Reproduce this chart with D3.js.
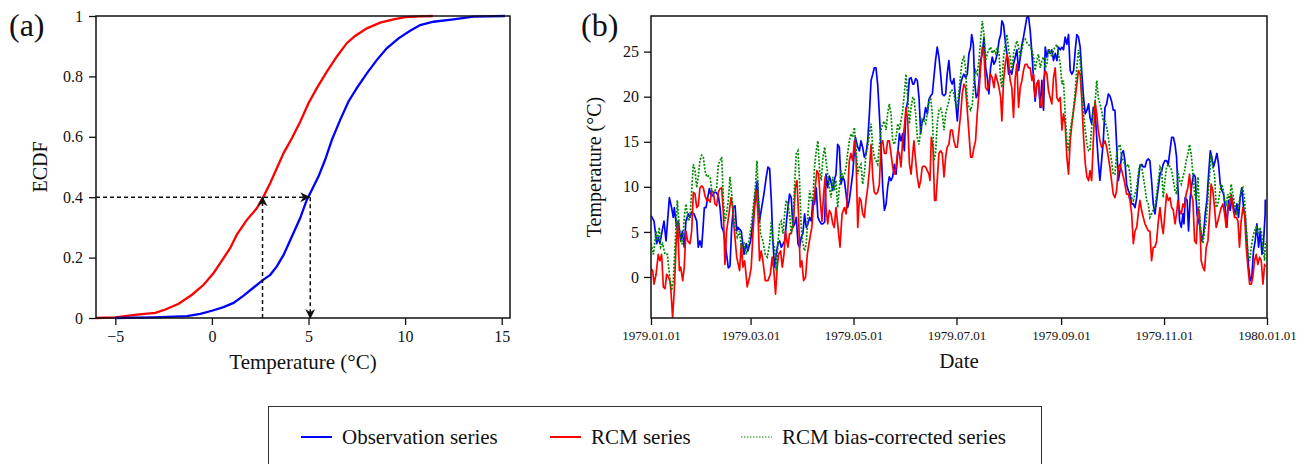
<!DOCTYPE html>
<html lang="en">
<head>
<meta charset="utf-8">
<title>ECDF and daily temperature series</title>
<script src="https://cdn.jsdelivr.net/npm/d3@7"></script>
<style>
  body { margin: 0; background: #fff; }
  svg text { font-family: "Liberation Serif", "Times New Roman", serif; fill: #111; }
</style>
</head>
<body>
<script>

// ---------- data ----------
// panel (a): ECDF points [temperature, probability]
var ecdfObs = [[-5,0],[-3.0,0.002],[-1.3,0.006],[-0.6,0.014],[0,0.024],[0.6,0.036],[1.12,0.05],[1.64,0.074],
  [2.16,0.101],[2.67,0.127],[3.02,0.143],[3.36,0.171],[3.71,0.209],[4.14,0.27],[4.57,0.331],[4.91,0.391],
  [5.17,0.424],[5.52,0.469],[5.86,0.524],[6.21,0.59],[6.64,0.656],[7.07,0.717],[7.5,0.761],[8.02,0.81],
  [8.53,0.854],[9.05,0.893],[9.66,0.926],[10.26,0.951],[10.78,0.97],[11.47,0.981],[12.5,0.989],[13.53,0.998],[15.17,1]];
var ecdfRcm = [[-6,0],[-5,0.002],[-3.88,0.011],[-2.93,0.017],[-2.41,0.028],[-1.72,0.047],[-1.03,0.077],[-0.43,0.11],
  [0.09,0.149],[0.43,0.182],[0.95,0.232],[1.29,0.276],[1.81,0.325],[2.33,0.364],[2.67,0.402],[3.02,0.447],
  [3.36,0.496],[3.71,0.546],[4.14,0.595],[4.57,0.65],[5.0,0.711],[5.43,0.761],[5.95,0.816],[6.47,0.866],
  [6.98,0.91],[7.41,0.934],[8.02,0.959],[8.71,0.978],[9.4,0.989],[10.0,0.996],[10.78,0.999],[11.43,1]];
var quantileLevel = 0.4;
var rcmQuantile = 2.62;
var obsQuantile = 5.09;
var ecdfXTicks = [-5, 0, 5, 10, 15];
var ecdfYTicks = [0, 0.2, 0.4, 0.6, 0.8, 1];

// panel (b): [day of 1979, temperature]
var obsSeries = [[0,6.8],[1.8,6.2],[3.4,3.7],[4.3,4.4],[5.3,3.7],[6.3,4.8],[7.7,6.2],[8.9,4.0],[10.9,8.8],[12.2,7.7],
  [13.2,6.6],[13.8,7.7],[15.2,5.5],[16.2,6.2],[17.6,4.0],[18.6,5.1],[19.7,3.3],[20.7,6.2],[22.1,7.0],[23.1,6.6],
  [24.1,7.2],[25.5,7.0],[27.1,6.2],[28.0,3.3],[29.0,4.0],[30.0,3.3],[31.0,5.9],[31.6,7.7],[32.6,7.7],[33.4,8.6],
  [34.6,9.8],[35.3,9.2],[36.5,9.0],[37.5,9.4],[38.5,9.4],[39.9,9.0],[40.9,7.7],[41.9,5.5],[42.9,5.1],[43.8,4.0],
  [45.8,1.0],[46.8,1.2],[47.8,5.5],[48.8,7.7],[49.8,7.9],[50.8,5.1],[51.5,5.5],[53.5,5.1],[55.1,2.5],[56.4,3.7],
  [57.4,2.9],[59.0,4.0],[60.4,6.2],[61.8,9.2],[63.0,10.7],[64.3,6.2],[65.3,7.4],[66.9,9.2],[68.3,11.1],[69.3,12.2],
  [70.3,12.0],[71.3,8.5],[72.2,4.0],[73.2,1.1],[74.2,2.5],[75.2,3.7],[76.2,4.0],[77.2,3.3],[79.2,4.0],[80.7,7.0],
  [82.1,9.2],[83.1,8.8],[84.1,5.5],[85.1,5.9],[86.1,6.6],[87.1,3.7],[88.0,3.3],[89.0,4.4],[90.0,4.8],[91.0,7.0],
  [92.0,5.5],[93.0,5.9],[94.0,6.6],[95.0,6.2],[95.9,8.5],[96.9,8.1],[97.9,9.9],[98.9,6.6],[99.9,6.2],[100.9,5.9],
  [101.9,5.9],[102.9,6.1],[103.7,11.4],[104.7,9.9],[105.7,11.2],[106.7,10.5],[107.7,9.6],[108.6,10.7],[109.6,11.4],
  [110.6,14.7],[111.6,14.4],[112.6,10.3],[113.6,11.1],[114.6,10.7],[115.6,9.2],[116.5,7.7],[117.5,8.5],[119.5,11.4],
  [121.1,15.5],[122.5,14.4],[123.5,14.0],[124.4,15.1],[125.4,14.4],[126.4,13.3],[127.4,13.7],[128.4,15.1],[129.4,18.1],
  [130.4,21.8],[131.4,22.5],[132.3,23.2],[133.3,23.2],[134.3,21.4],[135.3,18.1],[136.3,14.4],[137.3,9.9],[138.3,7.4],
  [139.3,8.1],[140.2,9.9],[141.2,11.1],[142.2,10.7],[143.2,11.1],[144.2,12.5],[145.2,11.4],[146.2,13.7],[147.2,15.9],
  [148.1,15.1],[149.1,15.9],[150.1,14.0],[151.1,18.5],[152.1,19.5],[153.1,22.0],[154.1,22.1],[155.1,21.4],[155.8,21.4],
  [156.8,22.0],[157.8,21.8],[158.8,19.9],[159.8,15.9],[160.7,17.3],[161.7,17.5],[162.7,18.8],[163.7,18.1],[164.7,19.7],
  [165.7,20.1],[166.7,20.3],[167.6,22.1],[168.6,24.0],[169.6,25.5],[170.6,24.4],[171.6,22.5],[172.6,20.3],[173.6,20.1],
  [174.6,20.3],[175.5,22.5],[176.5,24.0],[177.5,21.8],[178.5,21.4],[179.5,22.0],[180.5,19.5],[181.5,17.3],[182.5,19.9],
  [183.5,21.4],[184.4,22.1],[185.4,22.5],[186.4,22.1],[187.4,22.5],[188.4,24.8],[189.4,25.5],[190.0,26.9],[191.0,25.8],
  [191.7,21.8],[192.7,19.9],[193.7,20.3],[194.7,22.5],[195.3,24.0],[196.3,24.8],[197.3,26.6],[198.3,23.2],[199.3,22.1],
  [200.2,20.3],[201.2,23.2],[202.2,24.4],[203.2,23.6],[204.2,24.0],[205.2,24.8],[206.2,26.2],[207.2,26.9],[207.9,28.4],
  [208.9,28.0],[209.9,26.2],[210.9,24.7],[211.9,22.5],[212.8,22.9],[213.8,22.5],[214.8,23.6],[215.8,24.4],[216.8,25.2],
  [217.8,22.9],[218.8,24.4],[219.8,25.8],[220.7,26.6],[221.7,27.7],[222.7,28.8],[223.7,28.9],[224.7,27.3],[225.7,24.8],
  [226.7,21.8],[227.6,19.5],[228.6,21.4],[229.6,21.8],[230.6,18.8],[231.6,21.8],[232.6,18.5],[233.6,25.5],[234.6,24.4],
  [235.5,25.2],[236.5,24.8],[237.5,25.2],[238.5,24.0],[239.5,24.8],[240.5,24.0],[241.5,25.5],[242.5,25.2],[243.5,25.5],
  [244.4,25.2],[245.4,26.6],[246.4,25.8],[247.4,26.9],[248.4,22.9],[249.4,22.5],[250.4,22.9],[251.4,25.2],[252.3,26.9],
  [253.3,26.6],[254.3,25.5],[255.3,22.5],[256.3,19.9],[257.3,18.1],[258.3,18.5],[259.3,19.2],[260.1,17.7],[261.1,17.0],
  [262.1,18.8],[263.1,18.5],[264.1,15.5],[265.0,12.9],[266.0,10.7],[267.0,12.9],[268.0,15.1],[269.0,18.8],[270.0,19.2],
  [271.0,20.3],[271.9,20.1],[272.9,19.5],[273.9,18.5],[274.9,18.5],[275.9,14.7],[276.9,10.7],[277.9,11.8],[278.9,13.7],
  [279.9,14.0],[280.8,12.9],[281.8,10.3],[282.8,9.6],[283.8,9.2],[284.8,8.1],[285.8,8.1],[286.8,7.7],[287.8,8.8],
  [288.7,10.7],[289.7,12.3],[290.7,12.5],[291.7,12.2],[292.7,12.2],[293.7,12.9],[294.7,13.1],[295.6,12.9],[296.6,10.7],
  [297.6,8.1],[298.6,7.0],[299.6,8.5],[300.6,9.9],[301.6,11.4],[302.6,11.8],[303.5,12.5],[304.5,12.9],[305.5,12.9],
  [306.5,12.5],[307.5,14.0],[308.5,15.5],[309.5,15.5],[310.5,14.7],[311.4,13.3],[312.2,9.9],[313.2,6.2],[314.2,5.5],
  [315.2,7.0],[315.8,5.9],[316.5,8.8],[317.7,8.5],[318.5,5.1],[319.5,8.8],[320.5,10.3],[321.5,11.4],[322.5,11.1],
  [323.5,7.0],[324.4,6.2],[325.4,5.5],[326.4,4.0],[327.4,4.8],[328.4,7.0],[329.4,8.5],[330.4,11.4],[331.4,14.0],
  [332.3,13.3],[333.3,12.2],[334.3,12.9],[335.3,13.7],[336.3,12.5],[337.3,10.3],[338.3,9.6],[339.3,9.2],[340.2,7.7],
  [341.2,5.5],[342.2,8.5],[343.2,7.4],[344.2,8.8],[345.2,7.7],[346.2,7.0],[347.2,8.1],[348.1,6.6],[349.1,8.8],[350.1,9.9],
  [351.1,7.7],[352.1,6.6],[353.1,4.0],[354.1,1.1],[355.1,-0.4],[356.0,0.0],[357.0,2.9],[358.0,4.0],[359.0,5.9],[360.0,3.3],
  [361.0,5.1],[362.0,2.5],[363.0,4.0],[363.9,7.0],[364,8.6]];

var rcmSeries = [[0,0.9],[1.0,0.7],[1.8,-0.8],[3.0,0.3],[4.3,2.5],[5.3,1.8],[6.3,2.5],[7.3,-1.1],[8.3,-1.3],[9.3,0.3],
  [10.3,0.0],[11.2,-0.4],[11.8,-1.5],[12.8,-4.5],[13.8,-1.5],[14.8,3.3],[15.8,6.2],[16.8,0.7],[17.6,1.1],[18.8,-0.4],
  [19.7,1.1],[20.7,5.1],[21.7,4.0],[23.1,3.7],[24.1,5.1],[25.1,9.4],[26.1,9.2],[27.1,7.7],[28.0,7.9],[29.0,9.9],
  [30.0,10.1],[31.0,9.9],[32.0,9.0],[33.0,8.5],[34.0,8.6],[35.0,8.3],[36.0,9.6],[36.9,9.4],[37.9,8.1],[38.9,7.9],
  [39.9,9.4],[40.9,9.8],[41.9,9.9],[42.9,7.0],[43.8,1.4],[44.8,5.1],[46.2,7.0],[47.4,8.8],[48.4,7.7],[49.4,5.1],
  [50.8,2.2],[51.7,1.4],[52.5,0.7],[53.5,3.7],[54.5,1.1],[55.5,1.8],[57.0,-1.1],[58.4,0.0],[59.4,1.1],[60.4,4.8],
  [61.4,7.7],[62.4,9.6],[63.4,7.0],[64.3,1.8],[65.3,2.9],[66.3,1.8],[67.7,-0.4],[69.3,-0.4],[70.7,0.3],[71.8,2.2],
  [72.8,0.7],[73.8,-1.9],[74.8,1.1],[75.6,2.5],[76.8,2.9],[77.8,1.1],[78.8,2.5],[79.7,5.1],[81.1,3.3],[82.1,4.8],
  [83.1,4.8],[84.5,6.2],[85.5,9.9],[86.5,10.7],[87.4,7.0],[88.4,1.1],[89.4,1.8],[90.4,-0.4],[91.6,0.0],[92.6,2.5],
  [93.6,3.7],[94.6,4.8],[95.3,5.5],[96.3,8.1],[97.3,9.9],[98.3,11.8],[99.3,11.4],[100.3,8.5],[101.3,6.2],[102.3,9.2],
  [103.2,11.1],[103.7,7.7],[104.7,5.9],[105.7,7.4],[106.7,7.0],[107.7,5.9],[108.6,5.5],[109.6,7.7],[110.6,5.9],
  [112.0,3.3],[113.2,7.0],[114.6,7.7],[115.6,7.0],[116.5,9.2],[117.5,12.9],[118.5,13.7],[119.5,12.9],[120.5,15.1],
  [121.5,13.3],[122.5,5.5],[123.5,8.8],[124.4,8.5],[125.4,7.0],[126.4,6.6],[127.4,8.5],[128.4,9.9],[129.4,11.8],
  [130.4,14.7],[131.4,11.1],[132.3,9.4],[133.3,9.2],[134.3,9.4],[135.3,10.3],[136.3,14.7],[137.3,15.1],[138.3,13.7],
  [139.3,13.7],[140.2,15.1],[141.2,15.1],[142.2,13.7],[143.2,12.2],[144.2,11.4],[145.2,12.2],[146.2,14.0],[147.2,13.7],
  [148.1,12.2],[149.1,15.1],[150.1,16.6],[151.1,18.8],[152.1,17.3],[153.1,12.6],[154.1,11.4],[155.1,13.7],[155.8,15.1],
  [156.8,12.9],[157.8,11.1],[158.8,9.9],[159.8,10.7],[160.7,12.2],[161.7,12.3],[162.7,12.2],[163.7,11.8],[164.7,11.4],
  [165.3,10.7],[166.1,15.5],[167.1,14.4],[168.0,8.5],[168.8,8.5],[169.6,10.7],[170.6,13.7],[171.6,14.0],[172.6,13.7],
  [173.6,11.1],[174.6,13.3],[175.5,14.4],[176.5,14.7],[177.5,16.3],[178.5,16.3],[179.5,15.1],[180.5,14.4],[181.5,14.4],
  [182.5,16.3],[183.5,18.1],[184.4,20.3],[185.4,21.4],[186.4,21.0],[187.4,18.5],[188.4,15.9],[189.4,13.3],[190.4,13.3],
  [191.4,14.4],[192.3,15.1],[193.3,18.1],[194.3,20.3],[195.3,23.2],[196.3,25.5],[197.3,24.8],[198.3,21.0],[199.3,20.7],
  [200.2,21.4],[201.2,22.5],[202.2,22.1],[203.2,21.0],[204.2,22.5],[205.2,21.8],[206.2,21.0],[207.2,19.9],[207.9,17.3],
  [208.9,21.8],[209.9,23.6],[210.9,24.7],[211.9,24.0],[212.8,21.8],[213.8,21.0],[214.8,17.7],[215.8,22.1],[216.8,23.6],
  [217.8,18.8],[218.8,21.0],[219.8,21.8],[220.7,22.9],[221.7,23.6],[222.7,23.6],[223.7,23.2],[224.7,23.2],[225.7,21.8],
  [226.7,22.5],[227.6,19.9],[228.6,21.4],[229.6,21.8],[230.6,19.2],[231.6,18.8],[232.6,21.8],[233.6,22.9],[234.6,22.5],
  [235.5,20.7],[236.5,19.9],[237.5,19.2],[238.5,22.1],[239.5,23.2],[240.5,19.9],[241.5,19.5],[242.5,19.9],[243.5,16.3],
  [244.4,18.1],[245.4,17.0],[246.4,13.3],[247.4,11.4],[248.4,15.1],[249.4,17.0],[250.4,18.5],[251.4,19.9],[252.3,21.4],
  [253.3,22.9],[254.3,22.5],[255.3,19.5],[256.3,15.5],[257.3,12.6],[258.3,11.1],[259.3,10.7],[260.1,11.8],[261.1,10.7],
  [262.1,15.1],[263.1,19.5],[264.1,18.1],[265.0,16.3],[266.0,15.1],[267.0,14.4],[268.0,14.7],[269.0,15.1],[270.0,14.4],
  [271.0,13.3],[271.9,12.2],[272.9,10.7],[273.9,9.2],[274.9,8.8],[275.9,9.6],[276.9,12.2],[277.9,12.5],[278.9,11.8],
  [279.9,11.1],[280.8,10.3],[281.8,9.2],[282.8,9.2],[283.8,8.5],[284.8,7.0],[285.8,3.7],[286.8,5.1],[287.8,5.5],
  [288.7,7.0],[289.7,8.5],[290.7,7.4],[291.7,6.6],[292.7,5.9],[293.7,5.5],[294.7,5.1],[295.6,5.1],[296.6,1.8],[297.6,3.3],
  [298.6,3.3],[299.6,4.0],[300.6,6.2],[301.6,7.7],[302.6,5.9],[303.5,4.8],[304.5,7.0],[305.5,9.2],[306.5,8.5],[307.5,8.8],
  [308.5,7.7],[309.5,7.4],[310.5,5.9],[311.4,7.0],[312.2,8.5],[313.2,7.4],[314.2,7.0],[315.2,8.1],[316.2,7.7],[317.1,9.2],
  [318.1,9.9],[319.1,11.4],[320.1,9.2],[321.1,8.5],[322.1,4.0],[323.1,3.7],[324.1,7.7],[325.0,7.0],[326.0,1.8],[327.0,1.1],
  [328.0,0.7],[329.0,3.3],[330.0,4.0],[331.0,7.0],[331.9,10.3],[332.9,9.6],[333.9,7.7],[334.9,5.5],[335.9,6.2],[336.9,7.0],
  [337.9,7.7],[338.9,8.1],[339.9,7.0],[340.8,5.5],[341.8,7.7],[342.8,8.1],[343.8,9.2],[344.8,7.7],[345.8,6.6],[346.8,6.6],
  [347.8,6.2],[348.7,3.3],[349.7,6.2],[350.7,7.7],[351.7,7.0],[352.7,3.3],[353.7,1.1],[354.7,-0.8],[355.7,-0.8],[356.6,0.0],
  [357.6,1.8],[358.6,2.5],[359.6,1.4],[360.6,2.2],[361.6,1.8],[362.6,-0.8],[363.6,1.4],[364,1.1]];

var bcSeries = [[0,3.7],[1.4,2.5],[3.0,5.1],[3.7,4.0],[4.9,5.5],[5.7,3.3],[6.9,3.7],[8.3,2.5],[9.7,2.5],[10.9,0.3],
  [12.2,-1.5],[13.2,-0.4],[14.2,3.3],[15.6,8.5],[16.8,5.5],[17.8,3.7],[18.8,3.7],[19.7,6.6],[20.7,8.1],[22.1,6.2],
  [23.1,6.6],[24.1,9.6],[25.1,12.5],[26.1,11.8],[27.1,9.9],[28.0,11.1],[29.0,12.9],[30.0,13.5],[31.0,13.3],[32.0,11.8],
  [33.0,11.1],[34.0,11.2],[35.0,11.1],[36.0,9.6],[36.9,9.4],[37.9,9.6],[38.9,9.9],[39.9,12.5],[40.9,12.9],[41.9,13.3],
  [42.9,8.5],[43.8,6.2],[44.8,7.0],[45.8,8.5],[46.8,11.1],[47.8,9.2],[48.8,7.0],[49.8,5.5],[51.1,4.4],[52.5,5.1],
  [53.5,3.3],[55.1,3.7],[56.4,2.5],[57.4,3.3],[59.0,5.1],[60.4,7.4],[61.8,9.9],[62.8,12.9],[63.7,8.5],[64.9,4.8],
  [66.3,4.0],[67.7,2.5],[68.9,2.2],[70.3,3.7],[71.3,6.2],[72.2,4.0],[73.2,3.3],[74.2,0.7],[75.2,3.7],[76.2,5.9],
  [77.2,6.2],[78.2,4.8],[79.2,7.0],[80.1,8.5],[81.1,8.1],[82.1,7.0],[83.1,4.8],[84.1,5.9],[85.1,10.3],[86.1,13.7],
  [87.1,14.0],[88.0,10.7],[89.0,5.5],[90.0,3.7],[91.0,2.9],[92.0,3.7],[93.0,7.0],[94.0,9.6],[95.0,8.5],[95.9,8.5],
  [96.9,12.2],[97.9,14.0],[98.9,15.1],[99.9,11.8],[100.9,10.7],[101.9,13.3],[102.9,14.4],[103.7,12.9],[104.7,11.4],
  [105.7,9.9],[106.7,8.8],[107.7,11.1],[108.6,9.6],[109.6,10.7],[110.6,7.7],[111.6,9.9],[112.6,11.8],[113.6,11.1],
  [114.6,11.4],[115.6,12.2],[116.5,13.7],[117.5,15.1],[118.5,15.9],[119.5,15.5],[120.5,16.6],[121.5,14.4],[122.5,11.4],
  [123.5,12.2],[124.4,12.5],[125.4,10.3],[126.4,11.4],[127.4,13.7],[128.4,14.4],[129.4,15.9],[130.4,17.0],[131.4,14.4],
  [132.3,13.3],[133.3,12.9],[134.3,12.5],[135.3,14.4],[136.3,16.3],[137.3,17.0],[138.3,17.3],[139.3,16.3],[140.2,18.1],
  [141.2,19.2],[142.2,18.1],[143.2,15.1],[144.2,14.7],[145.2,15.5],[146.2,17.0],[147.2,16.3],[148.1,17.3],[149.1,18.4],
  [150.1,20.3],[151.1,22.5],[152.1,19.9],[153.1,17.0],[154.1,18.8],[155.1,19.9],[155.8,19.9],[156.8,18.1],[157.8,15.5],
  [158.8,14.7],[159.8,16.3],[160.7,17.5],[161.7,17.3],[162.7,17.0],[163.7,18.1],[164.7,19.5],[165.7,19.9],[166.7,18.1],
  [167.6,12.9],[168.6,13.7],[169.6,17.0],[170.6,18.5],[171.6,18.7],[172.6,18.1],[173.6,16.3],[174.6,18.1],[175.5,18.8],
  [176.5,19.5],[177.5,20.7],[178.5,20.7],[179.5,20.3],[180.5,19.2],[181.5,18.8],[182.5,20.7],[183.5,22.5],[184.4,24.0],
  [185.4,24.4],[186.4,23.2],[187.4,19.5],[188.4,18.8],[189.4,18.5],[190.4,19.2],[191.4,21.8],[192.3,22.9],[193.3,22.5],
  [194.3,24.0],[195.3,26.2],[196.3,28.4],[197.3,26.9],[198.3,24.0],[199.3,24.8],[200.2,25.2],[201.2,25.5],[202.2,24.8],
  [203.2,25.2],[204.2,24.8],[205.2,25.5],[206.2,24.8],[207.2,21.8],[207.9,21.0],[208.9,24.4],[209.9,25.8],[210.9,26.9],
  [211.9,25.2],[212.8,24.4],[213.8,22.9],[214.8,24.8],[215.8,25.5],[216.8,26.2],[217.8,25.5],[218.8,24.4],[219.8,25.2],
  [220.7,26.2],[221.7,26.4],[222.7,26.0],[223.7,25.8],[224.7,25.5],[225.7,25.2],[226.7,24.4],[227.6,22.9],[228.6,24.0],
  [229.6,24.7],[230.6,23.2],[231.6,24.0],[232.6,24.4],[233.6,23.2],[234.6,23.6],[235.5,25.2],[236.5,25.2],[237.5,24.4],
  [238.5,25.2],[239.5,25.5],[240.5,25.8],[241.5,24.7],[242.5,23.6],[243.5,21.4],[244.4,21.8],[245.4,18.1],[246.4,15.1],
  [247.4,14.0],[248.4,16.3],[249.4,17.3],[250.4,18.8],[251.4,20.7],[252.3,23.2],[253.3,25.2],[254.3,24.0],[255.3,20.3],
  [256.3,18.1],[257.3,16.3],[258.3,14.7],[259.3,14.0],[260.1,14.0],[261.1,16.6],[262.1,18.8],[263.1,19.2],[264.1,21.8],
  [265.0,19.9],[266.0,19.2],[267.0,18.5],[268.0,17.3],[269.0,17.3],[270.0,16.6],[271.0,15.5],[271.9,14.0],[272.9,12.9],
  [273.9,11.4],[274.9,11.4],[275.9,13.7],[276.9,14.4],[277.9,14.7],[278.9,13.3],[279.9,12.9],[280.8,12.5],[281.8,12.2],
  [282.8,12.5],[283.8,11.4],[284.8,8.8],[285.8,8.5],[286.8,9.2],[287.8,9.9],[288.7,11.4],[289.7,12.5],[290.7,12.2],
  [291.7,11.1],[292.7,9.9],[293.7,8.5],[294.7,8.1],[295.6,6.6],[296.6,7.0],[297.6,7.4],[298.6,7.7],[299.6,9.2],[300.6,10.7],
  [301.6,12.2],[302.6,11.8],[303.5,8.8],[304.5,10.7],[305.5,12.2],[306.5,12.5],[307.5,12.2],[308.5,11.8],[309.5,10.7],
  [310.5,9.6],[311.4,9.2],[312.2,11.8],[313.2,10.7],[314.2,10.3],[315.2,11.1],[316.2,11.8],[317.1,12.9],[318.1,13.6],
  [319.1,14.7],[320.1,13.6],[321.1,11.4],[322.1,9.2],[323.1,8.5],[324.1,11.1],[325.0,7.0],[326.0,4.8],[327.0,3.7],
  [328.0,5.1],[329.0,6.2],[330.0,8.8],[331.0,11.4],[331.9,13.6],[332.9,12.2],[333.9,11.4],[334.9,7.7],[335.9,8.1],
  [336.9,9.2],[337.9,10.3],[338.9,9.9],[339.9,8.5],[340.8,8.1],[341.8,9.2],[342.8,8.5],[343.8,10.3],[344.8,9.2],[345.8,8.1],
  [346.8,7.0],[347.8,7.4],[348.7,8.5],[349.7,9.6],[350.7,9.9],[351.7,8.5],[352.7,5.5],[353.7,2.5],[354.7,1.8],[355.7,3.3],
  [356.6,4.4],[357.6,5.1],[358.6,5.5],[359.6,4.8],[360.6,5.5],[361.6,5.1],[362.6,3.3],[363.6,1.8],[364,4.0]];

var seriesYTicks = [0, 5, 10, 15, 20, 25];
var legendLabels = ["Observation series", "RCM series", "RCM bias-corrected series"];
var seriesColors = ["#0000ff", "#ff0000", "#008a00"];

// ---------- layout ----------
var w = 1309, h = 464;
var svg = d3.select("body").append("svg").attr("width", w).attr("height", h);

var defs = svg.append("defs");
function arrowMarker(id) {
  defs.append("marker")
    .attr("id", id)
    .attr("viewBox", "0 0 10 10")
    .attr("refX", 9).attr("refY", 5)
    .attr("markerWidth", 10).attr("markerHeight", 10)
    .attr("markerUnits", "userSpaceOnUse")
    .attr("orient", "auto")
    .append("path")
    .attr("d", "M0,0 L10,5 L0,10 L3,5 Z")
    .attr("fill", "#111");
}
arrowMarker("arrow");

function styleAxis(g) {
  g.selectAll("path.domain").remove();
  g.selectAll(".tick line").attr("stroke", "#111").attr("stroke-width", 1.3);
  g.selectAll(".tick text").attr("fill", "#111");
}

// ---------- panel (a) ----------
var a = { left: 96, right: 510, top: 16, bottom: 318 };
var xA = d3.scaleLinear().domain([-6, 15.43]).range([a.left, a.right]);
var yA = d3.scaleLinear().domain([0, 1]).range([a.bottom, a.top]);

var gA = svg.append("g");

gA.append("g")
  .attr("transform", "translate(0," + a.bottom + ")")
  .call(d3.axisBottom(xA).tickValues(ecdfXTicks).tickSize(7).tickPadding(6))
  .call(styleAxis)
  .selectAll("text").style("font-size", "16px");

gA.append("g")
  .attr("transform", "translate(" + a.left + ",0)")
  .call(d3.axisLeft(yA).tickValues(ecdfYTicks).tickSize(7).tickPadding(6).tickFormat(d3.format("~g")))
  .call(styleAxis)
  .selectAll("text").style("font-size", "16px");

var lineA = d3.line()
  .x(function (d) { return xA(d[0]); })
  .y(function (d) { return yA(d[1]); });

gA.append("path").datum(ecdfRcm)
  .attr("d", lineA).attr("fill", "none")
  .attr("stroke", seriesColors[1]).attr("stroke-width", 2.3);
gA.append("path").datum(ecdfObs)
  .attr("d", lineA).attr("fill", "none")
  .attr("stroke", seriesColors[0]).attr("stroke-width", 2.3);

// quantile mapping arrows
var dash = "4,3";
gA.append("line")
  .attr("x1", xA(-6)).attr("y1", yA(quantileLevel))
  .attr("x2", xA(obsQuantile) - 1).attr("y2", yA(quantileLevel))
  .attr("stroke", "#111").attr("stroke-width", 1.5).attr("stroke-dasharray", dash)
  .attr("marker-end", "url(#arrow)");
gA.append("line")
  .attr("x1", xA(rcmQuantile)).attr("y1", yA(0))
  .attr("x2", xA(rcmQuantile)).attr("y2", yA(quantileLevel))
  .attr("stroke", "#111").attr("stroke-width", 1.5).attr("stroke-dasharray", dash)
  .attr("marker-end", "url(#arrow)");
gA.append("line")
  .attr("x1", xA(obsQuantile)).attr("y1", yA(quantileLevel))
  .attr("x2", xA(obsQuantile)).attr("y2", yA(0))
  .attr("stroke", "#111").attr("stroke-width", 1.5).attr("stroke-dasharray", dash)
  .attr("marker-end", "url(#arrow)");

gA.append("rect")
  .attr("x", a.left).attr("y", a.top)
  .attr("width", a.right - a.left).attr("height", a.bottom - a.top)
  .attr("fill", "none").attr("stroke", "#111").attr("stroke-width", 1.5);

gA.append("text")
  .attr("x", (a.left + a.right) / 2).attr("y", 369)
  .attr("text-anchor", "middle").style("font-size", "21px")
  .text("Temperature (°C)");
gA.append("text")
  .attr("transform", "translate(47," + (a.top + a.bottom) / 2 + ") rotate(-90)")
  .attr("text-anchor", "middle").style("font-size", "20px")
  .text("ECDF");
gA.append("text")
  .attr("x", 9).attr("y", 36)
  .style("font-size", "32px")
  .text("(a)");

// ---------- panel (b) ----------
var b = { left: 651, right: 1267, top: 16, bottom: 318 };
var t0 = Date.UTC(1979, 0, 1);
function toDate(day) { return new Date(t0 + day * 864e5); }

var allSeries = [obsSeries, rcmSeries, bcSeries];
var yExtent = d3.extent(d3.merge(allSeries), function (d) { return d[1]; });

var xB = d3.scaleUtc().domain([new Date(t0), new Date(Date.UTC(1980, 0, 1))]).range([b.left, b.right]);
var yB = d3.scaleLinear().domain([yExtent[0] - 0.05, yExtent[1] + 0.05]).range([b.bottom, b.top]);

var gB = svg.append("g");

gB.append("g")
  .attr("transform", "translate(0," + b.bottom + ")")
  .call(d3.axisBottom(xB).ticks(d3.utcMonth.every(2)).tickFormat(d3.utcFormat("%Y.%m.%d")).tickSize(7).tickPadding(6))
  .call(styleAxis)
  .selectAll("text").style("font-size", "13px");

gB.append("g")
  .attr("transform", "translate(" + b.left + ",0)")
  .call(d3.axisLeft(yB).tickValues(seriesYTicks).tickSize(7).tickPadding(5))
  .call(styleAxis)
  .selectAll("text").style("font-size", "16px");

var lineB = d3.line()
  .x(function (d) { return xB(toDate(d[0])); })
  .y(function (d) { return yB(d[1]); });

var clip = defs.append("clipPath").attr("id", "clipB");
clip.append("rect").attr("x", b.left).attr("y", b.top)
  .attr("width", b.right - b.left).attr("height", b.bottom - b.top);

var plotB = gB.append("g").attr("clip-path", "url(#clipB)");
plotB.append("path").datum(obsSeries)
  .attr("d", lineB).attr("fill", "none")
  .attr("stroke", seriesColors[0]).attr("stroke-width", 1.7).attr("stroke-linejoin", "round");
plotB.append("path").datum(rcmSeries)
  .attr("d", lineB).attr("fill", "none")
  .attr("stroke", seriesColors[1]).attr("stroke-width", 1.7).attr("stroke-linejoin", "round");
plotB.append("path").datum(bcSeries)
  .attr("d", lineB).attr("fill", "none")
  .attr("stroke", seriesColors[2]).attr("stroke-width", 1.7)
  .attr("stroke-dasharray", "2,1.5");

gB.append("rect")
  .attr("x", b.left).attr("y", b.top)
  .attr("width", b.right - b.left).attr("height", b.bottom - b.top)
  .attr("fill", "none").attr("stroke", "#111").attr("stroke-width", 1.5);

gB.append("text")
  .attr("x", (b.left + b.right) / 2).attr("y", 368)
  .attr("text-anchor", "middle").style("font-size", "21px")
  .text("Date");
gB.append("text")
  .attr("transform", "translate(601," + (b.top + b.bottom) / 2 + ") rotate(-90)")
  .attr("text-anchor", "middle").style("font-size", "20px")
  .text("Temperature (°C)");
gB.append("text")
  .attr("x", 581).attr("y", 36)
  .style("font-size", "32px")
  .text("(b)");

// ---------- legend ----------
var legend = svg.append("g");
legend.append("rect")
  .attr("x", 268.5).attr("y", 406.5)
  .attr("width", 773).attr("height", 80)
  .attr("fill", "#fff").attr("stroke", "#333").attr("stroke-width", 1);

var legendX = [301, 550, 741];
legendLabels.forEach(function (label, i) {
  var item = legend.append("g").attr("transform", "translate(" + legendX[i] + ",437)");
  item.append("line")
    .attr("x1", 0).attr("x2", 31).attr("y1", 0).attr("y2", 0)
    .attr("stroke", seriesColors[i])
    .attr("stroke-width", i === 2 ? 1.2 : 2)
    .attr("stroke-dasharray", i === 2 ? "1.5,1.5" : null);
  item.append("text")
    .attr("x", 41).attr("y", 0).attr("dy", "0.33em")
    .style("font-size", "21px")
    .text(label);
});

</script>
</body>
</html>
